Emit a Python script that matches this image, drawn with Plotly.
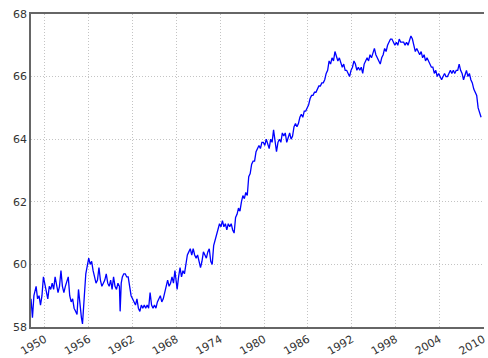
import plotly.graph_objects as go

years = [
1948.1,1948.3,1948.5,1948.8,1949.0,1949.2,1949.4,1949.6,1949.8,
1950.0,1950.2,1950.4,1950.6,1950.8,1951.0,1951.2,1951.4,1951.6,1951.8,
1952.0,1952.2,1952.4,1952.6,1952.8,1953.0,1953.2,1953.4,1953.6,1953.8,
1954.0,1954.2,1954.4,1954.6,1954.8,1955.0,1955.15,1955.3,1955.4,1955.6,1955.8,
1956.0,1956.2,1956.4,1956.6,1956.8,1957.0,1957.2,1957.4,1957.6,1957.8,
1958.0,1958.2,1958.4,1958.6,1958.8,1959.0,1959.2,1959.4,1959.6,1959.8,
1960.0,1960.2,1960.3,1960.45,1960.6,1960.8,1961.0,1961.2,1961.4,1961.6,1961.8,
1962.0,1962.2,1962.4,1962.6,1962.8,1963.0,1963.2,1963.4,1963.6,1963.8,
1964.0,1964.2,1964.4,1964.6,1964.8,1965.0,1965.2,1965.4,1965.6,1965.8,
1966.0,1966.2,1966.4,1966.6,1966.8,1967.0,1967.2,1967.4,1967.6,1967.8,
1968.0,1968.1,1968.3,1968.5,1968.7,1968.9,1969.1,1969.3,1969.5,1969.7,1969.9,
1970.1,1970.3,1970.5,1970.7,1970.9,1971.1,1971.3,1971.5,1971.7,1971.9,
1972.1,1972.3,1972.5,1972.7,1972.9,1973.1,1973.3,1973.5,1973.7,1973.9,
1974.1,1974.3,1974.5,1974.7,1974.9,1975.1,1975.3,1975.5,1975.7,1975.9,
1976.1,1976.3,1976.5,1976.7,1976.9,1977.1,1977.3,1977.5,1977.7,1977.9,
1978.1,1978.3,1978.5,1978.7,1978.9,1979.1,1979.3,1979.5,1979.7,1979.9,
1980.1,1980.3,1980.5,1980.7,1980.9,1981.1,1981.3,1981.5,1981.7,1981.9,
1982.1,1982.3,1982.5,1982.7,1982.9,1983.1,1983.3,1983.5,1983.7,1983.9,
1984.1,1984.3,1984.5,1984.7,1984.9,1985.1,1985.3,1985.5,1985.7,1985.9,
1986.1,1986.3,1986.5,1986.7,1986.9,1987.1,1987.3,1987.5,1987.7,1987.9,
1988.1,1988.3,1988.5,1988.7,1988.9,1989.1,1989.3,1989.5,1989.7,1989.9,
1990.1,1990.3,1990.5,1990.7,1990.9,1991.1,1991.3,1991.5,1991.7,1991.9,
1992.1,1992.3,1992.5,1992.7,1992.9,1993.1,1993.3,1993.5,1993.7,1993.9,
1994.1,1994.3,1994.5,1994.7,1994.9,1995.1,1995.3,1995.5,1995.7,1995.9,
1996.1,1996.3,1996.5,1996.7,1996.9,1997.1,1997.3,1997.5,1997.7,1997.9,
1998.1,1998.3,1998.5,1998.7,1998.9,1999.1,1999.3,1999.5,1999.7,1999.9,
2000.1,2000.3,2000.5,2000.7,2000.9,2001.1,2001.3,2001.5,2001.7,2001.9,
2002.1,2002.3,2002.5,2002.7,2002.9,2003.1,2003.3,2003.5,2003.7,2003.9,
2004.1,2004.3,2004.5,2004.7,2004.9,2005.1,2005.3,2005.5,2005.7,2005.9,
2006.1,2006.3,2006.5,2006.7,2006.9,2007.1,2007.3,2007.5,2007.7,2007.9,
2008.1,2008.3,2008.5,2008.7,2008.9,2009.1,2009.3,2009.5,2009.7,
]

rate = [
58.9,58.3,59.0,59.3,58.9,59.0,58.7,59.0,59.6,
59.4,59.1,58.9,59.3,59.2,59.4,59.2,59.6,59.3,59.1,
59.3,59.8,59.3,59.1,59.3,59.5,59.6,59.0,58.8,58.9,
58.6,58.5,58.4,59.2,58.6,58.3,58.1,58.8,59.0,59.7,60.0,
60.2,60.0,60.1,59.8,59.6,59.4,59.5,59.9,59.5,59.3,
59.4,59.5,59.7,59.4,59.3,59.5,59.2,59.6,59.3,59.2,
59.4,59.3,58.5,59.4,59.6,59.7,59.7,59.6,59.6,59.3,59.0,
58.9,58.8,58.7,58.9,58.6,58.5,58.7,58.6,58.7,58.6,
58.7,58.6,59.1,58.7,58.6,58.7,58.6,58.8,58.9,59.0,
58.8,58.9,59.1,59.3,59.5,59.3,59.4,59.6,59.4,59.8,
59.5,59.2,59.6,59.9,59.6,59.8,59.7,60.0,60.3,60.4,60.5,
60.3,60.5,60.3,60.2,60.3,60.1,59.9,60.1,60.4,60.3,
60.2,60.4,60.5,60.1,60.0,60.6,60.8,60.9,61.2,61.3,
61.2,61.4,61.2,61.3,61.1,61.3,61.2,61.3,61.1,61.0,
61.5,61.6,61.8,61.7,62.0,62.2,62.1,62.3,62.2,62.8,
62.9,63.2,63.3,63.3,63.6,63.7,63.8,63.7,63.9,63.9,
63.8,64.0,63.8,63.7,64.0,63.9,64.3,63.9,63.6,63.9,
64.0,63.9,64.2,64.1,64.2,63.9,64.1,64.2,64.0,64.1,
64.4,64.5,64.4,64.5,64.7,64.8,64.7,64.9,64.9,65.0,
65.1,65.3,65.4,65.4,65.5,65.5,65.6,65.7,65.7,65.8,
65.8,65.9,66.1,66.2,66.5,66.4,66.6,66.5,66.8,66.6,
66.5,66.6,66.4,66.3,66.4,66.2,66.2,66.1,66.0,66.2,
66.3,66.5,66.4,66.2,66.3,66.2,66.3,66.1,66.4,66.5,
66.6,66.5,66.7,66.6,66.8,66.9,66.7,66.6,66.5,66.4,
66.6,66.7,66.9,66.8,67.0,67.1,67.2,67.2,67.1,67.0,
67.1,67.0,67.2,67.1,67.1,67.1,67.0,67.1,67.0,67.2,
67.3,67.2,67.0,66.8,66.9,66.8,66.7,66.8,66.6,66.7,
66.5,66.6,66.5,66.4,66.3,66.3,66.1,66.2,66.0,66.1,
66.0,65.9,66.0,66.1,66.0,66.0,66.1,66.2,66.1,66.2,
66.1,66.2,66.2,66.4,66.2,66.1,65.9,66.1,66.2,66.0,
66.1,65.9,65.8,65.6,65.5,65.4,65.0,64.8,64.7,
]

x_ticks = [1950, 1956, 1962, 1968, 1974, 1980, 1986, 1992, 1998, 2004, 2010]
y_ticks = [58, 60, 62, 64, 66, 68]

fig = go.Figure()
fig.add_trace(go.Scatter(x=years, y=rate, mode="lines",
                         line=dict(color="#0000ff", width=1.3),
                         showlegend=False, hoverinfo="skip"))

axis_font = dict(family="DejaVu Sans", size=11, color="#333333")
fig.update_layout(
    width=488, height=358,
    margin=dict(l=31, r=0, t=14, b=30),
    paper_bgcolor="white", plot_bgcolor="white",
    xaxis=dict(range=[1948.1, 2010.1], tickmode="array", tickvals=x_ticks,
               ticktext=[str(t) for t in x_ticks], tickangle=-30,
               ticklabeloverflow="allow",
               showgrid=True, gridcolor="#c4c4c4", griddash="1px,2px", gridwidth=1,
               showline=True, linecolor="#666666", linewidth=1.5, mirror=True,
               ticks="", tickfont=axis_font, zeroline=False),
    yaxis=dict(range=[58, 68], tickmode="array", tickvals=y_ticks,
               showgrid=True, gridcolor="#c4c4c4", griddash="1px,2px", gridwidth=1,
               showline=True, linecolor="#666666", linewidth=1.5,
               ticks="", tickfont=axis_font, zeroline=False),
)
fig.write_html("out.html")
